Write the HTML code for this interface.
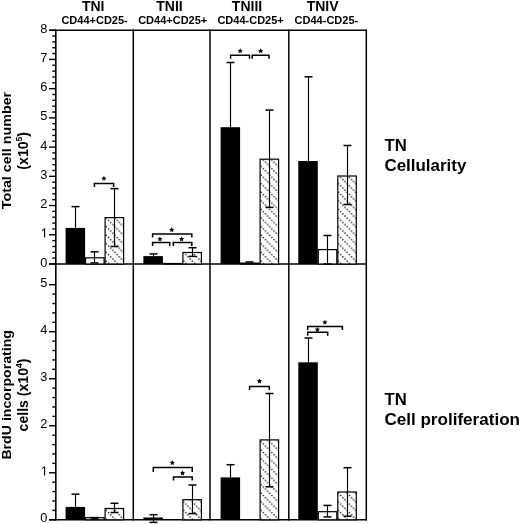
<!DOCTYPE html>
<html><head><meta charset="utf-8"><style>
html,body{margin:0;padding:0;background:#fff;width:520px;height:524px;overflow:hidden}
svg{display:block;will-change:transform}
text{font-family:"Liberation Sans",sans-serif;fill:#000}
.tl{font-size:12.8px}
.hd{font-size:14px;font-weight:bold}
.sh{font-size:11px;font-weight:bold}
.lab{font-size:13.7px;font-weight:bold}
.lab2{font-size:14.1px;font-weight:bold}
.side{font-size:16.7px;font-weight:bold}
</style></head><body>
<svg width="520" height="524" viewBox="0 0 520 524">
<defs>
<pattern id="hatch" patternUnits="userSpaceOnUse" width="8.6" height="8.6">
<rect width="8.6" height="8.6" fill="#fff"/>
<rect x="0.35" y="0.35" width="1.3" height="1.3" fill="#000"/>
<rect x="2.50" y="2.50" width="1.3" height="1.3" fill="#000"/>
<rect x="4.65" y="4.65" width="1.3" height="1.3" fill="#000"/>
<rect x="6.80" y="6.80" width="1.3" height="1.3" fill="#000"/>
</pattern>
</defs>
<text x="93.2" y="11.1" text-anchor="middle" class="hd">TNI</text>
<text x="94.6" y="24.4" text-anchor="middle" class="sh">CD44+CD25-</text>
<text x="169.5" y="11.1" text-anchor="middle" class="hd">TNII</text>
<text x="172.7" y="24.4" text-anchor="middle" class="sh">CD44+CD25+</text>
<text x="247" y="11.1" text-anchor="middle" class="hd">TNIII</text>
<text x="250.6" y="24.4" text-anchor="middle" class="sh">CD44-CD25+</text>
<text x="322.6" y="11.1" text-anchor="middle" class="hd">TNIV</text>
<text x="326.4" y="24.4" text-anchor="middle" class="sh">CD44-CD25-</text>
<text transform="translate(11.0,150.55) rotate(-90)" text-anchor="middle" class="lab" textLength="117.5" lengthAdjust="spacingAndGlyphs">Total cell number</text>
<text transform="translate(27.5,150.8) rotate(-90)" text-anchor="middle" class="lab2">(x10<tspan dy="-6" font-size="8.5px">5</tspan><tspan dy="6">)</tspan></text>
<text transform="translate(11.0,394.8) rotate(-90)" text-anchor="middle" class="lab" textLength="129.6" lengthAdjust="spacingAndGlyphs">BrdU incorporating</text>
<text transform="translate(27.6,395.0) rotate(-90)" text-anchor="middle" class="lab2">cells (x10<tspan dy="-6" font-size="8.5px">4</tspan><tspan dy="6">)</tspan></text>
<text x="384.5" y="150.6" class="side">TN</text>
<text x="384.4" y="171.0" class="side" textLength="82.0" lengthAdjust="spacingAndGlyphs">Cellularity</text>
<text x="384.5" y="405.0" class="side">TN</text>
<text x="384.4" y="425.4" class="side" textLength="135.6" lengthAdjust="spacingAndGlyphs">Cell proliferation</text>
<line x1="49.00" y1="30.20" x2="367.05" y2="30.20" stroke="#000" stroke-width="1.5"/>
<line x1="49.00" y1="264.00" x2="367.05" y2="264.00" stroke="#000" stroke-width="1.5"/>
<line x1="49.00" y1="519.80" x2="367.05" y2="519.80" stroke="#000" stroke-width="1.5"/>
<line x1="55.80" y1="29.45" x2="55.80" y2="520.55" stroke="#000" stroke-width="1.6"/>
<line x1="133.30" y1="29.45" x2="133.30" y2="520.55" stroke="#000" stroke-width="1.5"/>
<line x1="210.00" y1="29.45" x2="210.00" y2="520.55" stroke="#000" stroke-width="1.5"/>
<line x1="288.80" y1="29.45" x2="288.80" y2="520.55" stroke="#000" stroke-width="1.5"/>
<line x1="366.30" y1="29.45" x2="366.30" y2="520.55" stroke="#000" stroke-width="1.5"/>
<line x1="49.00" y1="264.00" x2="55.80" y2="264.00" stroke="#000" stroke-width="1.4"/>
<line x1="52.30" y1="258.15" x2="55.80" y2="258.15" stroke="#000" stroke-width="1.4"/>
<line x1="52.30" y1="252.31" x2="55.80" y2="252.31" stroke="#000" stroke-width="1.4"/>
<line x1="52.30" y1="246.47" x2="55.80" y2="246.47" stroke="#000" stroke-width="1.4"/>
<line x1="52.30" y1="240.62" x2="55.80" y2="240.62" stroke="#000" stroke-width="1.4"/>
<line x1="49.00" y1="234.78" x2="55.80" y2="234.78" stroke="#000" stroke-width="1.4"/>
<line x1="52.30" y1="228.93" x2="55.80" y2="228.93" stroke="#000" stroke-width="1.4"/>
<line x1="52.30" y1="223.08" x2="55.80" y2="223.08" stroke="#000" stroke-width="1.4"/>
<line x1="52.30" y1="217.24" x2="55.80" y2="217.24" stroke="#000" stroke-width="1.4"/>
<line x1="52.30" y1="211.39" x2="55.80" y2="211.39" stroke="#000" stroke-width="1.4"/>
<line x1="49.00" y1="205.55" x2="55.80" y2="205.55" stroke="#000" stroke-width="1.4"/>
<line x1="52.30" y1="199.70" x2="55.80" y2="199.70" stroke="#000" stroke-width="1.4"/>
<line x1="52.30" y1="193.86" x2="55.80" y2="193.86" stroke="#000" stroke-width="1.4"/>
<line x1="52.30" y1="188.01" x2="55.80" y2="188.01" stroke="#000" stroke-width="1.4"/>
<line x1="52.30" y1="182.17" x2="55.80" y2="182.17" stroke="#000" stroke-width="1.4"/>
<line x1="49.00" y1="176.32" x2="55.80" y2="176.32" stroke="#000" stroke-width="1.4"/>
<line x1="52.30" y1="170.48" x2="55.80" y2="170.48" stroke="#000" stroke-width="1.4"/>
<line x1="52.30" y1="164.63" x2="55.80" y2="164.63" stroke="#000" stroke-width="1.4"/>
<line x1="52.30" y1="158.79" x2="55.80" y2="158.79" stroke="#000" stroke-width="1.4"/>
<line x1="52.30" y1="152.94" x2="55.80" y2="152.94" stroke="#000" stroke-width="1.4"/>
<line x1="49.00" y1="147.10" x2="55.80" y2="147.10" stroke="#000" stroke-width="1.4"/>
<line x1="52.30" y1="141.25" x2="55.80" y2="141.25" stroke="#000" stroke-width="1.4"/>
<line x1="52.30" y1="135.41" x2="55.80" y2="135.41" stroke="#000" stroke-width="1.4"/>
<line x1="52.30" y1="129.56" x2="55.80" y2="129.56" stroke="#000" stroke-width="1.4"/>
<line x1="52.30" y1="123.72" x2="55.80" y2="123.72" stroke="#000" stroke-width="1.4"/>
<line x1="49.00" y1="117.88" x2="55.80" y2="117.88" stroke="#000" stroke-width="1.4"/>
<line x1="52.30" y1="112.03" x2="55.80" y2="112.03" stroke="#000" stroke-width="1.4"/>
<line x1="52.30" y1="106.18" x2="55.80" y2="106.18" stroke="#000" stroke-width="1.4"/>
<line x1="52.30" y1="100.34" x2="55.80" y2="100.34" stroke="#000" stroke-width="1.4"/>
<line x1="52.30" y1="94.49" x2="55.80" y2="94.49" stroke="#000" stroke-width="1.4"/>
<line x1="49.00" y1="88.65" x2="55.80" y2="88.65" stroke="#000" stroke-width="1.4"/>
<line x1="52.30" y1="82.80" x2="55.80" y2="82.80" stroke="#000" stroke-width="1.4"/>
<line x1="52.30" y1="76.96" x2="55.80" y2="76.96" stroke="#000" stroke-width="1.4"/>
<line x1="52.30" y1="71.11" x2="55.80" y2="71.11" stroke="#000" stroke-width="1.4"/>
<line x1="52.30" y1="65.27" x2="55.80" y2="65.27" stroke="#000" stroke-width="1.4"/>
<line x1="49.00" y1="59.42" x2="55.80" y2="59.42" stroke="#000" stroke-width="1.4"/>
<line x1="52.30" y1="53.58" x2="55.80" y2="53.58" stroke="#000" stroke-width="1.4"/>
<line x1="52.30" y1="47.73" x2="55.80" y2="47.73" stroke="#000" stroke-width="1.4"/>
<line x1="52.30" y1="41.89" x2="55.80" y2="41.89" stroke="#000" stroke-width="1.4"/>
<line x1="52.30" y1="36.04" x2="55.80" y2="36.04" stroke="#000" stroke-width="1.4"/>
<line x1="49.00" y1="30.20" x2="55.80" y2="30.20" stroke="#000" stroke-width="1.4"/>
<line x1="49.00" y1="519.80" x2="55.80" y2="519.80" stroke="#000" stroke-width="1.4"/>
<line x1="52.30" y1="510.40" x2="55.80" y2="510.40" stroke="#000" stroke-width="1.4"/>
<line x1="52.30" y1="500.99" x2="55.80" y2="500.99" stroke="#000" stroke-width="1.4"/>
<line x1="52.30" y1="491.59" x2="55.80" y2="491.59" stroke="#000" stroke-width="1.4"/>
<line x1="52.30" y1="482.18" x2="55.80" y2="482.18" stroke="#000" stroke-width="1.4"/>
<line x1="49.00" y1="472.78" x2="55.80" y2="472.78" stroke="#000" stroke-width="1.4"/>
<line x1="52.30" y1="463.38" x2="55.80" y2="463.38" stroke="#000" stroke-width="1.4"/>
<line x1="52.30" y1="453.97" x2="55.80" y2="453.97" stroke="#000" stroke-width="1.4"/>
<line x1="52.30" y1="444.57" x2="55.80" y2="444.57" stroke="#000" stroke-width="1.4"/>
<line x1="52.30" y1="435.16" x2="55.80" y2="435.16" stroke="#000" stroke-width="1.4"/>
<line x1="49.00" y1="425.76" x2="55.80" y2="425.76" stroke="#000" stroke-width="1.4"/>
<line x1="52.30" y1="416.36" x2="55.80" y2="416.36" stroke="#000" stroke-width="1.4"/>
<line x1="52.30" y1="406.95" x2="55.80" y2="406.95" stroke="#000" stroke-width="1.4"/>
<line x1="52.30" y1="397.55" x2="55.80" y2="397.55" stroke="#000" stroke-width="1.4"/>
<line x1="52.30" y1="388.14" x2="55.80" y2="388.14" stroke="#000" stroke-width="1.4"/>
<line x1="49.00" y1="378.74" x2="55.80" y2="378.74" stroke="#000" stroke-width="1.4"/>
<line x1="52.30" y1="369.34" x2="55.80" y2="369.34" stroke="#000" stroke-width="1.4"/>
<line x1="52.30" y1="359.93" x2="55.80" y2="359.93" stroke="#000" stroke-width="1.4"/>
<line x1="52.30" y1="350.53" x2="55.80" y2="350.53" stroke="#000" stroke-width="1.4"/>
<line x1="52.30" y1="341.12" x2="55.80" y2="341.12" stroke="#000" stroke-width="1.4"/>
<line x1="49.00" y1="331.72" x2="55.80" y2="331.72" stroke="#000" stroke-width="1.4"/>
<line x1="52.30" y1="322.32" x2="55.80" y2="322.32" stroke="#000" stroke-width="1.4"/>
<line x1="52.30" y1="312.91" x2="55.80" y2="312.91" stroke="#000" stroke-width="1.4"/>
<line x1="52.30" y1="303.51" x2="55.80" y2="303.51" stroke="#000" stroke-width="1.4"/>
<line x1="52.30" y1="294.10" x2="55.80" y2="294.10" stroke="#000" stroke-width="1.4"/>
<line x1="49.00" y1="284.70" x2="55.80" y2="284.70" stroke="#000" stroke-width="1.4"/>
<text x="47.3" y="266.60" text-anchor="end" class="tl">0</text>
<path transform="translate(40.781,237.375) scale(0.006250,-0.006250)" d="M515 0V1237L197 1010V1180L530 1409H696V0Z" fill="#000"/>
<text x="47.3" y="208.15" text-anchor="end" class="tl">2</text>
<text x="47.3" y="178.92" text-anchor="end" class="tl">3</text>
<text x="47.3" y="149.70" text-anchor="end" class="tl">4</text>
<text x="47.3" y="120.47" text-anchor="end" class="tl">5</text>
<text x="47.3" y="91.25" text-anchor="end" class="tl">6</text>
<text x="47.3" y="62.02" text-anchor="end" class="tl">7</text>
<text x="47.3" y="32.80" text-anchor="end" class="tl">8</text>
<text x="47.3" y="522.40" text-anchor="end" class="tl">0</text>
<path transform="translate(40.781,475.380) scale(0.006250,-0.006250)" d="M515 0V1237L197 1010V1180L530 1409H696V0Z" fill="#000"/>
<text x="47.3" y="428.36" text-anchor="end" class="tl">2</text>
<text x="47.3" y="381.34" text-anchor="end" class="tl">3</text>
<text x="47.3" y="334.32" text-anchor="end" class="tl">4</text>
<text x="47.3" y="287.30" text-anchor="end" class="tl">5</text>
<rect x="65.60" y="227.90" width="19.50" height="36.10" fill="#000"/>
<rect x="85.60" y="257.80" width="18.50" height="6.20" fill="#fff" stroke="#000" stroke-width="1.2"/>
<rect x="105.10" y="217.60" width="18.50" height="46.40" fill="url(#hatch)" stroke="#000" stroke-width="1.2"/>
<line x1="75.50" y1="206.60" x2="75.50" y2="227.90" stroke="#000" stroke-width="1.15"/>
<line x1="71.50" y1="206.60" x2="79.50" y2="206.60" stroke="#000" stroke-width="1.5"/>
<line x1="94.50" y1="251.80" x2="94.50" y2="262.90" stroke="#000" stroke-width="1.15"/>
<line x1="90.50" y1="251.80" x2="98.50" y2="251.80" stroke="#000" stroke-width="1.5"/>
<line x1="90.50" y1="262.90" x2="98.50" y2="262.90" stroke="#000" stroke-width="1.5"/>
<line x1="114.50" y1="188.60" x2="114.50" y2="246.50" stroke="#000" stroke-width="1.15"/>
<line x1="110.50" y1="188.60" x2="118.50" y2="188.60" stroke="#000" stroke-width="1.5"/>
<line x1="110.50" y1="246.50" x2="118.50" y2="246.50" stroke="#000" stroke-width="1.5"/>
<rect x="143.40" y="256.10" width="19.50" height="7.90" fill="#000"/>
<rect x="163.40" y="263.50" width="18.50" height="0.50" fill="#fff" stroke="#000" stroke-width="1.2"/>
<rect x="182.90" y="252.50" width="18.50" height="11.50" fill="url(#hatch)" stroke="#000" stroke-width="1.2"/>
<line x1="153.50" y1="253.90" x2="153.50" y2="256.10" stroke="#000" stroke-width="1.15"/>
<line x1="149.50" y1="253.90" x2="157.50" y2="253.90" stroke="#000" stroke-width="1.5"/>
<line x1="192.50" y1="247.70" x2="192.50" y2="256.40" stroke="#000" stroke-width="1.15"/>
<line x1="188.50" y1="247.70" x2="196.50" y2="247.70" stroke="#000" stroke-width="1.5"/>
<line x1="188.50" y1="256.40" x2="196.50" y2="256.40" stroke="#000" stroke-width="1.5"/>
<rect x="220.60" y="127.20" width="19.50" height="136.80" fill="#000"/>
<rect x="240.60" y="263.10" width="18.50" height="0.90" fill="#fff" stroke="#000" stroke-width="1.2"/>
<rect x="260.10" y="159.20" width="18.50" height="104.80" fill="url(#hatch)" stroke="#000" stroke-width="1.2"/>
<line x1="230.50" y1="62.50" x2="230.50" y2="127.20" stroke="#000" stroke-width="1.15"/>
<line x1="226.50" y1="62.50" x2="234.50" y2="62.50" stroke="#000" stroke-width="1.5"/>
<line x1="249.50" y1="262.00" x2="249.50" y2="262.60" stroke="#000" stroke-width="1.15"/>
<line x1="245.50" y1="262.00" x2="253.50" y2="262.00" stroke="#000" stroke-width="1.5"/>
<line x1="269.50" y1="110.10" x2="269.50" y2="207.40" stroke="#000" stroke-width="1.15"/>
<line x1="265.50" y1="110.10" x2="273.50" y2="110.10" stroke="#000" stroke-width="1.5"/>
<line x1="265.50" y1="207.40" x2="273.50" y2="207.40" stroke="#000" stroke-width="1.5"/>
<rect x="298.30" y="161.00" width="19.50" height="103.00" fill="#000"/>
<rect x="318.30" y="249.60" width="18.50" height="14.40" fill="#fff" stroke="#000" stroke-width="1.2"/>
<rect x="337.80" y="176.00" width="18.50" height="88.00" fill="url(#hatch)" stroke="#000" stroke-width="1.2"/>
<line x1="308.50" y1="76.80" x2="308.50" y2="161.00" stroke="#000" stroke-width="1.15"/>
<line x1="304.50" y1="76.80" x2="312.50" y2="76.80" stroke="#000" stroke-width="1.5"/>
<line x1="327.50" y1="235.50" x2="327.50" y2="264.00" stroke="#000" stroke-width="1.15"/>
<line x1="323.50" y1="235.50" x2="331.50" y2="235.50" stroke="#000" stroke-width="1.5"/>
<line x1="323.50" y1="264.00" x2="331.50" y2="264.00" stroke="#000" stroke-width="1.5"/>
<line x1="347.50" y1="145.50" x2="347.50" y2="204.50" stroke="#000" stroke-width="1.15"/>
<line x1="343.50" y1="145.50" x2="351.50" y2="145.50" stroke="#000" stroke-width="1.5"/>
<line x1="343.50" y1="204.50" x2="351.50" y2="204.50" stroke="#000" stroke-width="1.5"/>
<rect x="65.60" y="506.90" width="19.50" height="12.90" fill="#000"/>
<rect x="85.60" y="517.70" width="18.50" height="2.10" fill="#fff" stroke="#000" stroke-width="1.2"/>
<rect x="105.10" y="508.50" width="18.50" height="11.30" fill="url(#hatch)" stroke="#000" stroke-width="1.2"/>
<line x1="75.50" y1="494.20" x2="75.50" y2="506.90" stroke="#000" stroke-width="1.15"/>
<line x1="71.50" y1="494.20" x2="79.50" y2="494.20" stroke="#000" stroke-width="1.5"/>
<line x1="94.50" y1="517.60" x2="94.50" y2="519.00" stroke="#000" stroke-width="1.15"/>
<line x1="90.50" y1="517.60" x2="98.50" y2="517.60" stroke="#000" stroke-width="1.5"/>
<line x1="90.50" y1="519.00" x2="98.50" y2="519.00" stroke="#000" stroke-width="1.5"/>
<line x1="114.50" y1="503.30" x2="114.50" y2="512.50" stroke="#000" stroke-width="1.15"/>
<line x1="110.50" y1="503.30" x2="118.50" y2="503.30" stroke="#000" stroke-width="1.5"/>
<line x1="110.50" y1="512.50" x2="118.50" y2="512.50" stroke="#000" stroke-width="1.5"/>
<rect x="143.40" y="517.50" width="19.50" height="2.30" fill="#000"/>
<rect x="182.90" y="499.70" width="18.50" height="20.10" fill="url(#hatch)" stroke="#000" stroke-width="1.2"/>
<line x1="153.50" y1="514.70" x2="153.50" y2="522.40" stroke="#000" stroke-width="1.15"/>
<line x1="149.50" y1="514.70" x2="157.50" y2="514.70" stroke="#000" stroke-width="1.5"/>
<line x1="149.50" y1="522.40" x2="157.50" y2="522.40" stroke="#000" stroke-width="1.5"/>
<line x1="192.50" y1="485.00" x2="192.50" y2="513.60" stroke="#000" stroke-width="1.15"/>
<line x1="188.50" y1="485.00" x2="196.50" y2="485.00" stroke="#000" stroke-width="1.5"/>
<line x1="188.50" y1="513.60" x2="196.50" y2="513.60" stroke="#000" stroke-width="1.5"/>
<rect x="220.60" y="477.40" width="19.50" height="42.40" fill="#000"/>
<rect x="260.10" y="439.90" width="18.50" height="79.90" fill="url(#hatch)" stroke="#000" stroke-width="1.2"/>
<line x1="230.50" y1="464.70" x2="230.50" y2="477.40" stroke="#000" stroke-width="1.15"/>
<line x1="226.50" y1="464.70" x2="234.50" y2="464.70" stroke="#000" stroke-width="1.5"/>
<line x1="269.50" y1="393.50" x2="269.50" y2="486.80" stroke="#000" stroke-width="1.15"/>
<line x1="265.50" y1="393.50" x2="273.50" y2="393.50" stroke="#000" stroke-width="1.5"/>
<line x1="265.50" y1="486.80" x2="273.50" y2="486.80" stroke="#000" stroke-width="1.5"/>
<rect x="298.30" y="362.30" width="19.50" height="157.50" fill="#000"/>
<rect x="318.30" y="511.70" width="18.50" height="8.10" fill="#fff" stroke="#000" stroke-width="1.2"/>
<rect x="337.80" y="492.00" width="18.50" height="27.80" fill="url(#hatch)" stroke="#000" stroke-width="1.2"/>
<line x1="308.50" y1="338.00" x2="308.50" y2="362.30" stroke="#000" stroke-width="1.15"/>
<line x1="304.50" y1="338.00" x2="312.50" y2="338.00" stroke="#000" stroke-width="1.5"/>
<line x1="327.50" y1="505.40" x2="327.50" y2="516.90" stroke="#000" stroke-width="1.15"/>
<line x1="323.50" y1="505.40" x2="331.50" y2="505.40" stroke="#000" stroke-width="1.5"/>
<line x1="323.50" y1="516.90" x2="331.50" y2="516.90" stroke="#000" stroke-width="1.5"/>
<line x1="347.50" y1="467.70" x2="347.50" y2="516.20" stroke="#000" stroke-width="1.15"/>
<line x1="343.50" y1="467.70" x2="351.50" y2="467.70" stroke="#000" stroke-width="1.5"/>
<line x1="343.50" y1="516.20" x2="351.50" y2="516.20" stroke="#000" stroke-width="1.5"/>
<path d="M94.40,186.90 V183.40 H113.60 V186.90" fill="none" stroke="#000" stroke-width="1.5"/>
<polygon points="103.90,175.80 104.69,177.41 106.47,177.67 105.18,178.92 105.49,180.68 103.90,179.85 102.31,180.68 102.62,178.92 101.33,177.67 103.11,177.41" fill="#000"/>
<path d="M152.60,246.00 V242.50 H169.70 V246.00" fill="none" stroke="#000" stroke-width="1.5"/>
<polygon points="159.90,236.40 160.69,238.01 162.47,238.27 161.18,239.52 161.49,241.28 159.90,240.45 158.31,241.28 158.62,239.52 157.33,238.27 159.11,238.01" fill="#000"/>
<path d="M173.30,246.00 V242.50 H191.80 V246.00" fill="none" stroke="#000" stroke-width="1.5"/>
<polygon points="181.60,236.40 182.39,238.01 184.17,238.27 182.88,239.52 183.19,241.28 181.60,240.45 180.01,241.28 180.32,239.52 179.03,238.27 180.81,238.01" fill="#000"/>
<path d="M152.60,237.50 V234.00 H191.80 V237.50" fill="none" stroke="#000" stroke-width="1.5"/>
<polygon points="171.70,227.10 172.49,228.71 174.27,228.97 172.98,230.22 173.29,231.98 171.70,231.15 170.11,231.98 170.42,230.22 169.13,228.97 170.91,228.71" fill="#000"/>
<path d="M230.60,58.70 V55.20 H249.50 V58.70" fill="none" stroke="#000" stroke-width="1.5"/>
<polygon points="240.20,48.30 240.99,49.91 242.77,50.17 241.48,51.42 241.79,53.18 240.20,52.35 238.61,53.18 238.92,51.42 237.63,50.17 239.41,49.91" fill="#000"/>
<path d="M252.20,58.70 V55.20 H269.00 V58.70" fill="none" stroke="#000" stroke-width="1.5"/>
<polygon points="260.60,48.30 261.39,49.91 263.17,50.17 261.88,51.42 262.19,53.18 260.60,52.35 259.01,53.18 259.32,51.42 258.03,50.17 259.81,49.91" fill="#000"/>
<path d="M153.30,472.10 V467.50 H192.20 V472.10" fill="none" stroke="#000" stroke-width="1.5"/>
<polygon points="172.30,460.10 173.09,461.71 174.87,461.97 173.58,463.22 173.89,464.98 172.30,464.15 170.71,464.98 171.02,463.22 169.73,461.97 171.51,461.71" fill="#000"/>
<path d="M173.50,480.50 V477.00 H192.20 V480.50" fill="none" stroke="#000" stroke-width="1.5"/>
<polygon points="182.50,470.50 183.29,472.11 185.07,472.37 183.78,473.62 184.09,475.38 182.50,474.55 180.91,475.38 181.22,473.62 179.93,472.37 181.71,472.11" fill="#000"/>
<path d="M249.60,389.90 V386.40 H269.30 V389.90" fill="none" stroke="#000" stroke-width="1.5"/>
<polygon points="259.40,378.50 260.19,380.11 261.97,380.37 260.68,381.62 260.99,383.38 259.40,382.55 257.81,383.38 258.12,381.62 256.83,380.37 258.61,380.11" fill="#000"/>
<path d="M307.70,330.00 V326.50 H342.40 V330.00" fill="none" stroke="#000" stroke-width="1.5"/>
<polygon points="324.90,319.70 325.69,321.31 327.47,321.57 326.18,322.82 326.49,324.58 324.90,323.75 323.31,324.58 323.62,322.82 322.33,321.57 324.11,321.31" fill="#000"/>
<path d="M307.70,335.80 V332.30 H327.70 V335.80" fill="none" stroke="#000" stroke-width="1.5"/>
<polygon points="317.40,326.90 318.19,328.51 319.97,328.77 318.68,330.02 318.99,331.78 317.40,330.95 315.81,331.78 316.12,330.02 314.83,328.77 316.61,328.51" fill="#000"/>
</svg>
</body></html>
